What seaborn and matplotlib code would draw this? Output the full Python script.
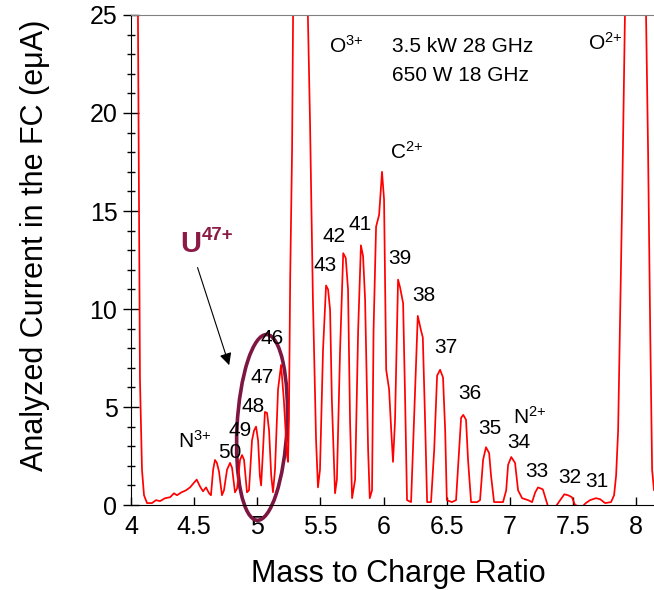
import numpy as np
import pandas as pd
import seaborn as sns
import matplotlib.pyplot as plt
from matplotlib.patches import Ellipse
from matplotlib.transforms import ScaledTranslation

# trace (mass/charge, current in eμA)
mq = [4.00, 4.03, 4.055, 4.063, 4.071, 4.087, 4.103, 4.127, 4.166, 4.198,
      4.23, 4.27, 4.31, 4.34, 4.364, 4.40, 4.435, 4.467, 4.50, 4.52,
      4.546, 4.57, 4.594, 4.618, 4.633, 4.65, 4.665, 4.68, 4.697, 4.72,
      4.736, 4.76, 4.784, 4.80, 4.823, 4.84, 4.863, 4.879, 4.895, 4.918,
      4.934, 4.958, 4.974, 4.99, 5.006, 5.02, 5.03, 5.045, 5.06, 5.077,
      5.093, 5.11, 5.124, 5.14, 5.164, 5.188, 5.21, 5.235, 5.243, 5.25,
      5.26, 5.275, 5.283, 5.34, 5.40, 5.417, 5.44, 5.465, 5.48, 5.496,
      5.52, 5.544, 5.56, 5.576, 5.59, 5.615, 5.63, 5.655, 5.68, 5.70,
      5.718, 5.734, 5.75, 5.774, 5.798, 5.82, 5.837, 5.853, 5.877, 5.89,
      5.908, 5.92, 5.94, 5.964, 5.987, 6.003, 6.02, 6.043, 6.06, 6.074,
      6.09, 6.114, 6.13, 6.154, 6.17, 6.185, 6.217, 6.24, 6.27, 6.296,
      6.31, 6.328, 6.344, 6.375, 6.40, 6.423, 6.447, 6.47, 6.487, 6.50,
      6.54, 6.573, 6.597, 6.613, 6.63, 6.652, 6.668, 6.692, 6.74, 6.763,
      6.787, 6.81, 6.835, 6.85, 6.874, 6.945, 6.97, 6.985, 7.01, 7.04,
      7.064, 7.096, 7.143, 7.175, 7.20, 7.222, 7.26, 7.286, 7.30, 7.365,
      7.397, 7.43, 7.46, 7.49, 7.515, 7.57, 7.60, 7.634, 7.68, 7.713,
      7.753, 7.80, 7.824, 7.84, 7.856, 7.87, 7.888, 7.91, 7.99, 8.077,
      8.093, 8.11, 8.125, 8.14]
current = [45, 38, 25, 15.6, 6.4, 1.8, 0.5, 0.1, 0.1, 0.25,
           0.2, 0.35, 0.4, 0.6, 0.5, 0.65, 0.75, 0.9, 1.15, 1.3,
           0.95, 0.7, 0.9, 0.6, 0.5, 1.8, 2.3, 2.15, 1.7, 0.5,
           0.75, 1.8, 2.15, 1.9, 0.65, 0.85, 2.3, 2.55, 2.3, 0.65,
           0.75, 3.3, 3.8, 4.0, 3.3, 1.5, 1.0, 2.8, 4.75, 4.7,
           3.8, 1.5, 0.65, 1.8, 5.9, 7.15, 5.35, 2.55, 2.2, 4.3,
           11.5, 18.1, 25, 45, 25, 19.6, 10.5, 3.3, 0.9, 1.8,
           7.9, 11.2, 11.0, 9.95, 5.35, 0.6, 1.3, 7.9, 12.85, 12.6,
           11.0, 4.3, 0.35, 1.3, 8.9, 13.25, 12.7, 10.5, 2.8, 0.35,
           0.75, 8.9, 14.2, 14.8, 17.0, 15.6, 6.9, 5.9, 3.8, 2.2,
           4.3, 11.5, 11.1, 10.3, 5.35, 0.25, 0.15, 4.3, 9.65, 8.9,
           8.55, 4.3, 0.15, 0.15, 2.8, 6.6, 6.9, 6.5, 3.8, 0.25,
           0.15, 0.25, 2.8, 4.45, 4.6, 4.35, 2.3, 0.15, 0.15, 0.25,
           2.3, 2.95, 2.65, 1.5, 0.15, 0.15, 0.75, 2.05, 2.45, 2.15,
           0.75, 0.35, 0.25, 0.15, 0.65, 0.9, 0.8, 0.25, -0.05, -0.05,
           0.25, 0.55, 0.5, 0.4, 0.0, -0.1, 0.1, 0.25, 0.35, 0.3,
           0.1, 0.15, 0.5, 1.5, 3.8, 8.9, 15.6, 25, 45, 25,
           18.1, 8.9, 1.8, 0.75]

# charge state labels
charge_labels = ["50", "49", "48", "47", "46", "43", "42", "41", "39", "38",
                 "37", "36", "35", "34", "33", "32", "31"]
charge_x = [4.78, 4.86, 4.97, 5.04, 5.12, 5.54, 5.61, 5.81, 6.13, 6.32,
            6.49, 6.68, 6.84, 7.07, 7.21, 7.47, 7.69]
charge_y = [2.7, 3.8, 5.05, 6.5, 8.5, 12.2, 13.7, 14.3, 12.6, 10.7,
            8.06, 5.7, 3.9, 3.2, 1.73, 1.38, 1.22]

# ion species labels
ion_labels = [r"O$^{\text{3+}}$", r"O$^{\text{2+}}$", r"C$^{\text{2+}}$",
              r"N$^{\text{3+}}$", r"N$^{\text{2+}}$"]
ion_x = [5.57, 7.62, 6.05, 4.37, 7.02]
ion_y = [23.4, 23.6, 18.0, 3.3, 4.5]

df = pd.DataFrame({"mq": mq, "current": current})

sns.set_style("ticks")
plt.rcParams['font.family'] = ['Liberation Sans', 'DejaVu Sans']
plt.rcParams['mathtext.fontset'] = 'custom'
plt.rcParams['mathtext.rm'] = 'Liberation Sans'
plt.rcParams['mathtext.it'] = 'Liberation Sans:italic'
plt.rcParams['mathtext.bf'] = 'Liberation Sans:bold'
for key in ['text.color', 'axes.labelcolor', 'xtick.color', 'ytick.color']:
    plt.rcParams[key] = 'black'

fig = plt.figure(figsize=(6.54, 5.9), dpi=100)
ax = fig.add_axes([0.2003, 0.144, 0.7997, 0.8306])

sns.lineplot(data=df, x="mq", y="current", sort=False, estimator=None,
             color="#ff0000", linewidth=1.25, ax=ax)

ax.set_xlim(4, 8.14)
ax.set_ylim(0, 25)
ax.set_xticks(np.arange(4, 8.01, 0.5))
ax.set_xticklabels(["4", "4.5", "5", "5.5", "6", "6.5", "7", "7.5", "8"])
ax.set_yticks([0, 5, 10, 15, 20, 25])
ax.set_yticks(np.arange(0, 26, 1), minor=True)
ax.tick_params(axis="x", direction="in", length=6, width=1, labelsize=18, pad=7)
ax.tick_params(axis="y", which="major", direction="inout", length=11.5, width=1,
               labelsize=18, pad=4)
ax.tick_params(axis="y", which="minor", direction="inout", length=5.5, width=1)
ax.tick_params(axis="x", which="minor", length=0)

ax.spines["right"].set_visible(False)
ax.spines["top"].set_color("#808080")
ax.spines["left"].set_color("black")
ax.spines["bottom"].set_color("black")

ax.set_xlabel("Mass to Charge Ratio", fontsize=22)
ax.set_ylabel("Analyzed Current in the FC (eμA)", fontsize=22)
ax.xaxis.set_label_coords(0.512, -0.11)
ax.yaxis.set_label_coords(-0.155, 0.53)

for lab, x, y in zip(charge_labels, charge_x, charge_y):
    ax.text(x, y, lab, fontsize=15, ha="center", va="center")
for lab, x, y in zip(ion_labels, ion_x, ion_y):
    ax.text(x, y, lab, fontsize=15, ha="left", va="center")

ax.text(6.07, 23.4, "3.5 kW 28 GHz", fontsize=15, ha="left", va="center")
ax.text(6.07, 21.9, "650 W 18 GHz", fontsize=15, ha="left", va="center")

# U47+ label: bold U with a bold superscript next to it
ax.text(4.39, 13.3, "U", fontsize=21, fontweight="bold", color="#8b1a45",
        ha="left", va="center")
ax.annotate("47+", xy=(4.39, 13.3), xytext=(15.5, 6.5), textcoords="offset points",
            fontsize=13.5, fontweight="bold", color="#8b1a45", ha="left", va="center")
ax.annotate("", xy=(4.784, 7.0), xytext=(4.52, 12.25),
            arrowprops=dict(arrowstyle="-|>", color="black", lw=0.8,
                            mutation_scale=18))

ring = Ellipse((0, 0), 0.5, 1.86, angle=-3, fill=False, edgecolor="#7d1640",
               linewidth=2.6, clip_on=False,
               transform=fig.dpi_scale_trans + ScaledTranslation(5.037, 3.96, ax.transData))
ax.add_patch(ring)

fig.savefig("out.png", dpi=100)
